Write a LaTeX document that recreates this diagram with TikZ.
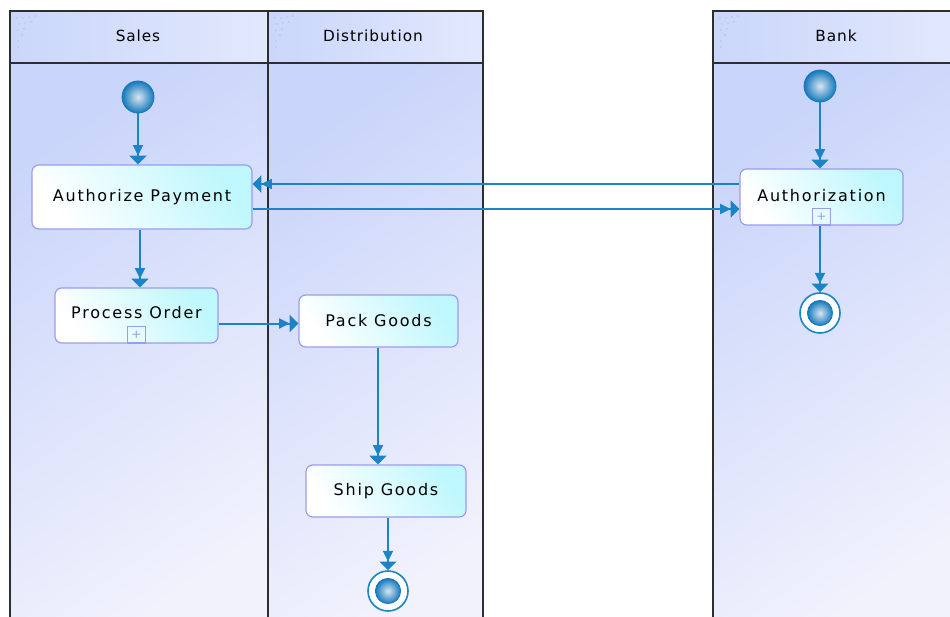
\documentclass[tikz,border=0pt]{standalone}
\usepackage{fontspec}
\setmainfont{DejaVu Sans}[LetterSpace=6]
\newfontfamily\actfont{DejaVu Sans}[LetterSpace=11]
\usetikzlibrary{arrows.meta,shapes.geometric}
\definecolor{laneA}{HTML}{C9D5FA}
\definecolor{laneB}{HTML}{F2F2FD}
\definecolor{headA}{HTML}{CAD7FA}
\definecolor{headB}{HTML}{E2E8FD}
\definecolor{border}{HTML}{2E2E2E}
\definecolor{nodeline}{HTML}{9C9CEE}
\definecolor{nodefill}{HTML}{BEF7FD}
\definecolor{flowc}{HTML}{1A84C6}
\definecolor{dotin}{HTML}{D8E6F0}
\definecolor{dotout}{HTML}{1478BC}
\definecolor{texture}{HTML}{B8C2DA}
\begin{document}
\begin{tikzpicture}[x=0.75pt,y=-0.75pt,
  lanebody/.style={draw=border,line width=1.1pt,top color=laneA,bottom color=laneB,shading angle=35},
  lanehead/.style={draw=border,line width=1.1pt,left color=headA,right color=headB},
  lanetitle/.style={font=\fontsize{11.5}{13}\selectfont,text=black},
  action/.style={rectangle,rounded corners=5pt,draw=nodeline,line width=0.9pt,
     top color=white,bottom color=nodefill,shading angle=125,
     font=\actfont\fontsize{12}{14}\selectfont,align=center,inner sep=0pt},
  startdot/.style={circle,minimum size=24pt,inner sep=0pt,draw=dotout,line width=0.6pt,
     inner color=dotin,outer color=dotout},
  endring/.style={circle,minimum size=30pt,inner sep=0pt,draw=flowc,line width=1.2pt,fill=white},
  enddot/.style={circle,minimum size=19pt,inner sep=0pt,draw=dotout,line width=0.5pt,
     inner color=dotin,outer color=dotout},
  plusbox/.style={rectangle,draw=nodeline,line width=0.9pt,minimum width=14pt,minimum height=12.5pt,
     inner sep=0pt,anchor=south,text=nodeline,font=\fontsize{9}{9}\selectfont},
  flow/.style={draw=flowc,line width=1.5pt,
     -{Triangle[length=8pt,width=7.5pt]Triangle[length=6.5pt,width=12.5pt]}}]
\useasboundingbox (0,0) rectangle (950,617);
\clip (0,0) rectangle (950,617);
\fill[white] (0,0) rectangle (950,617);
% lanes
\path[lanebody] (10,63) rectangle (268,640);
\path[lanebody] (268,63) rectangle (483,640);
\path[lanebody] (713,63) rectangle (960,640);
\path[lanehead] (10,11) rectangle (268,63);
\path[lanehead] (268,11) rectangle (483,63);
\path[lanehead] (713,11) rectangle (960,63);
% faint corner texture
\foreach \ox in {10,268,713}{
  \foreach \dx/\dy in {7/7,13/7,19/6,25/5,9/13,15/12,21/11,8/19,14/18,12/24,8/30,8/36}{
    \fill[texture] (\ox+\dx,11+\dy) circle (0.6pt);
  }
}
\node[lanetitle] (tsales) at (138,36) {Sales};
\node[lanetitle] (tdist) at (373,36) {Distribution};
\node[lanetitle] (tbank) at (836,36) {Bank};
% nodes
\node[startdot] (s1) at (138,97) {};
\node[action,minimum width=165pt,minimum height=48pt] (ap) at (142,197) {Authorize Payment};
\node[action,minimum width=122.25pt,minimum height=41.25pt] (po) at (136.5,315.5) {\raisebox{4pt}{Process Order}};
\node[plusbox] (pob) at (po.south) {+};
\node[action,minimum width=119.25pt,minimum height=39pt] (pk) at (378.5,321) {Pack Goods};
\node[action,minimum width=120pt,minimum height=39pt] (sg) at (386,491) {Ship Goods};
\node[endring] (f2) at (388,591) {};
\node[enddot] (f2i) at (f2) {};
\node[startdot] (s2) at (820,86) {};
\node[action,minimum width=122.25pt,minimum height=42pt] (au) at (821.5,197) {\raisebox{2pt}{Authorization}};
\node[plusbox] (aub) at (au.south) {+};
\node[endring] (f1) at (820,313) {};
\node[enddot] (f1i) at (f1) {};
% connectors
\draw[flow] (s1) -- (s1 |- ap.north);
\draw[flow] (ap.south -| 140,0) -- (po.north -| 140,0);
\draw[flow] ([yshift=-6pt]po.east) -- ([yshift=-6pt]po.east -| pk.west);
\draw[flow] (pk.south -| 378,0) -- (sg.north -| 378,0);
\draw[flow] (sg.south -| f2.north) -- (f2.north);
\draw[flow] ([yshift=9.75pt]au.west) -- ([yshift=9.75pt]au.west -| ap.east);
\draw[flow] ([yshift=-9pt]ap.east) -- ([yshift=-9pt]ap.east -| au.west);
\draw[flow] (s2) -- (s2 |- au.north);
\draw[flow] (aub.south -| f1.north) -- (f1.north);
\end{tikzpicture}
\end{document}
